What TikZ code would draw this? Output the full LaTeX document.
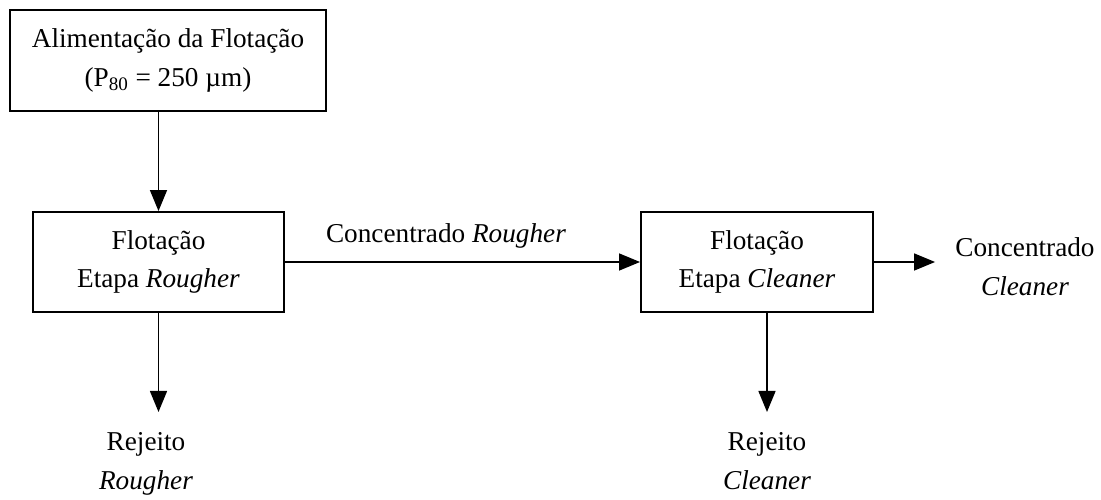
\documentclass[tikz,border=0pt]{standalone}
\usepackage{fontspec}
\setmainfont{Liberation Serif}
\usetikzlibrary{positioning,arrows.meta}

\begin{document}
\begin{tikzpicture}[
    font=\fontsize{15.5}{22}\selectfont,
    >={Triangle[length=4.2mm,width=3.4mm]},
    box/.style={draw=black, line width=1.1pt, align=center, minimum height=2cm, inner sep=0pt},
    lbl/.style={align=center, inner sep=4mm},
    note/.style={inner sep=1pt},
    arr/.style={->, line width=0.85pt},
]
\useasboundingbox (0,0) rectangle (22.02,-10);

% ---------- process boxes ----------
\node[box, minimum width=6.32cm, minimum height=2.02cm] (feed) at (3.36,-1.21)
  {Alimentação da Flotação\\(P\textsubscript{80} = 250 µm)};
\node[box, minimum width=5.02cm] (rough) at (3.17,-5.24) {Flotação\\Etapa \textit{Rougher}};
\node[box, minimum width=4.64cm] (clean) at (15.14,-5.24) {Flotação\\Etapa \textit{Cleaner}};

% ---------- streams ----------
\node[note] (concro) at (8.92,-4.72) {Concentrado \textit{Rougher}};
\node[lbl]  (conccl) at (20.5,-5.34) {Concentrado\\\textit{Cleaner}};
\node[lbl, anchor=north] (rejro) at (2.92,-8.24)  {Rejeito\\\textit{Rougher}};
\node[lbl, anchor=north] (rejcl) at (15.34,-8.24) {Rejeito\\\textit{Cleaner}};

\draw[arr] (feed.south -| rough.north) -- (rough.north);
\draw[arr] (rough.east) -- (clean.west);
\draw[arr] (clean.east) -- (clean.east -| conccl.west);
\draw[arr] (rough.south) -- (rough.south |- rejro.north);
\draw[arr] (clean.south -| rejcl.north) -- (rejcl.north);

\end{tikzpicture}
\end{document}
